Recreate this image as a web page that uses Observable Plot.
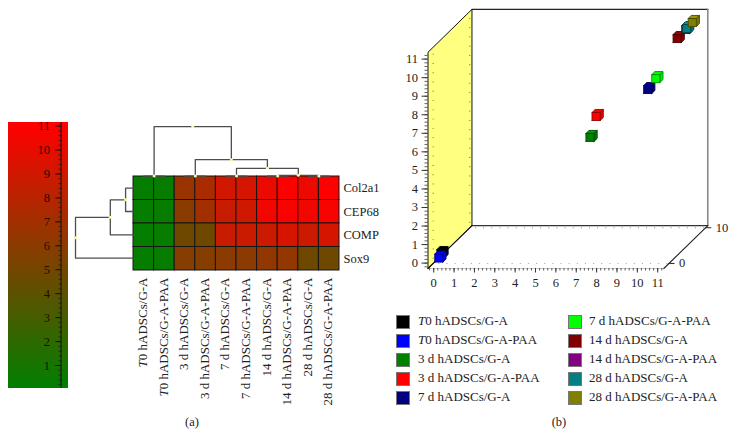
<!DOCTYPE html>
<html><head><meta charset="utf-8">
<script src="https://cdn.jsdelivr.net/npm/d3@7"></script>
<script src="https://cdn.jsdelivr.net/npm/@observablehq/plot@0.6"></script>
<style>
html,body{margin:0;padding:0;background:#fff}
#fig{position:relative;width:735px;height:436px;overflow:hidden;font-family:"Liberation Serif",serif;color:#222}
#fig svg{position:absolute;background:transparent;max-width:none;overflow:visible}
.leg{position:absolute;font-size:13px;line-height:14px;white-space:nowrap}
.sw{position:absolute;width:12px;height:12px;border:1px solid #777}
.cap{position:absolute;font-size:12.5px;transform:translateX(-50%)}
</style></head><body><div id="fig"></div>
<script>
const samples = ["T0 hADSCs/G-A","T0 hADSCs/G-A-PAA","3 d hADSCs/G-A","3 d hADSCs/G-A-PAA","7 d hADSCs/G-A","7 d hADSCs/G-A-PAA","14 d hADSCs/G-A","14 d hADSCs/G-A-PAA","28 d hADSCs/G-A","28 d hADSCs/G-A-PAA"];
const genes = ["Col2a1","CEP68","COMP","Sox9"];
const col2a1 = [0.2,0.3,6.6,7.3,9.0,9.2,10.2,10.8,10.2,11.0];
const cep68  = [0.2,0.3,5.9,7.0,8.6,8.9,10.5,10.7,10.4,10.7];
const comp   = [0.2,0.3,4.8,4.8,8.6,8.7,8.8,9.2,8.8,9.2];
const sox9   = [0.2,0.3,5.8,5.8,6.0,6.0,6.2,6.3,4.8,4.8];
const matrix = [col2a1,cep68,comp,sox9];

// column dendrogram: child positions, merge height and child heights
const colLeft   = [0.5,2.5,4.5,6.5,8.5,7,5,3,1];
const colRight  = [1.5,3.5,5.5,7.5,9.5,9,8,6.5,4.75];
const colHeight = [0.1,0.1,0.1,0.1,0.1,0.25,1.8,3.7,11];
const colLeftH  = [0,0,0,0,0,0.1,0.1,0.1,0.1];
const colRightH = [0,0,0,0,0,0.1,0.25,1.8,3.7];
// row dendrogram
const rowTop     = [0.5,1,1.75];
const rowBottom  = [1.5,2.5,3.5];
const rowHeight  = [1.5,4.4,11];
const rowTopH    = [0,1.5,4.4];
const rowBottomH = [0,0,0];

// 3D scatter values
const pcaX = [0.05,0,6.56,6.86,8.71,9.09,10.12,10.47,10.59,10.79];
const pcaY = [0.19,0,5.58,6.71,7.43,8.0,10.14,10.55,10.68,10.93];
const pcaZ = [0.3,0,4.8,4.8,8.6,8.7,8.8,9.2,8.8,9.2];
const pcaColors = ["#000000","#0000ff","#008000","#ff0000","#000080","#00ff00","#800000","#800080","#008080","#808000"];

const fig = document.getElementById("fig");
const fontFamily = '"Liberation Serif",serif';
const colorScale = {type:"linear",domain:[0,11],range:["#008000","#ff0000"],interpolate:"rgb"};
function place(svg,l,t){svg.style.left=l+"px";svg.style.top=t+"px";fig.appendChild(svg);return svg;}
const seq=(a,b,s)=>d3.range(Math.round((b-a)/s)+1).map(i=>+(a+i*s).toFixed(3));

// ---- colour bar
const barSteps = seq(0.04,11.1,0.05);
place(Plot.plot({width:75,height:290,marginLeft:8,marginRight:7,marginTop:12,marginBottom:12,
  style:{fontFamily,background:"transparent"},
  x:{domain:[0,1],axis:null},y:{domain:[0.04,11.15],axis:null},color:colorScale,
  marks:[
    Plot.rect(barSteps,{x1:0,x2:1,y1:d=>d,y2:d=>d+0.051,fill:d=>d,shapeRendering:"crispEdges"}),
    Plot.ruleX([0.875],{stroke:"#111",strokeWidth:1}),
    Plot.ruleY(seq(0.2,11,0.2),{y:d=>d,x1:0.84,x2:0.90,stroke:"#222",strokeWidth:0.8}),
    Plot.ruleY(seq(1,11,1),{y:d=>d,x1:0.79,x2:0.875,stroke:"#111",strokeWidth:1}),
    Plot.text(seq(1,11,1),{y:d=>d,x:0.69,text:d=>String(d),textAnchor:"end",fontSize:12.5,fill:"#2a0a00"})
  ]}),0,110);

// ---- heat map
const cells = matrix.flatMap((row,i)=>row.map((v,j)=>({gene:genes[i],sample:samples[j],value:v})));
const heat = Plot.plot({width:206+50,height:94+145,marginLeft:0,marginRight:50,marginTop:0,marginBottom:145,
  style:{fontFamily,background:"transparent"},
  x:{domain:samples,padding:0,round:false,label:null},
  y:{domain:genes,padding:0,round:false,label:null},
  color:colorScale,
  marks:[
    Plot.cell(cells,{x:"sample",y:"gene",fill:"value",stroke:"#161616",strokeWidth:1,inset:0}),
    Plot.axisX({tickSize:0,tickRotate:-90,tickPadding:7,fontSize:13,label:null,fill:"#222",dx:-1}),
    Plot.axisY({anchor:"right",tickSize:0,tickPadding:4,fontSize:12.5,label:null,fill:"#222"})
  ]});
place(heat,132.7,176);

// ---- column dendrogram
const colLinks = colLeft.flatMap((a,i)=>[
  {id:i,p:a,h:colLeftH[i]},{id:i,p:a,h:colHeight[i]},{id:i,p:colRight[i],h:colHeight[i]},{id:i,p:colRight[i],h:colRightH[i]}]);
const colDots = colLeft.map((a,i)=>({p:(a+colRight[i])/2,h:colHeight[i]}));
place(Plot.plot({width:206,height:55,marginLeft:0,marginRight:0,marginTop:0,marginBottom:0,
  style:{background:"transparent"},
  x:{domain:[0,10],axis:null},y:{domain:[0,12.11],axis:null},
  marks:[
    Plot.line(colLinks,{x:"p",y:"h",z:"id",stroke:"#4d4d4d",strokeWidth:1.3}),
    Plot.dot(colDots,{x:"p",y:"h",r:1.5,fill:"#ffff99",stroke:"none"})
  ]}),132.7,121);

// ---- row dendrogram
const rowLinks = rowTop.flatMap((a,i)=>[
  {id:i,p:a,h:rowTopH[i]},{id:i,p:a,h:rowHeight[i]},{id:i,p:rowBottom[i],h:rowHeight[i]},{id:i,p:rowBottom[i],h:rowBottomH[i]}]);
const rowDots = rowTop.map((a,i)=>({p:(a+rowBottom[i])/2,h:rowHeight[i]}));
place(Plot.plot({width:63,height:93.3,marginLeft:0,marginRight:0,marginTop:0,marginBottom:0,
  style:{background:"transparent"},
  x:{domain:[11.95,0],axis:null},y:{domain:[0,4],axis:null,reverse:true},
  marks:[
    Plot.line(rowLinks,{x:"h",y:"p",z:"id",stroke:"#4d4d4d",strokeWidth:1.3}),
    Plot.dot(rowDots,{x:"h",y:"p",r:1.5,fill:"#ffff99",stroke:"none"})
  ]}),70,176);

// ---- 3D panel: oblique projection of (x,y,z) onto the page
const kx=0.18, ky=0.193, z0=-1.4, zBack=10.6;
const xLo=-0.28,xHi=11.3,yLo=-0.29,yHi=11.37;
const P=(x,y,z)=>({px:x+kx*(z-z0),py:y+ky*(z-z0)});
const poly=(id,fill,stroke,w,pts)=>pts.map(p=>({id,fill,stroke,w,...P(...p)}));
const wall=poly("wall","#ffff80","#111",1,[[xLo,yLo,z0],[xLo,yHi,z0],[xLo,yHi,zBack],[xLo,yLo,zBack],[xLo,yLo,z0]]);
const seg=(a,b)=>[P(...a),P(...b)];
const cubes=[];
const hx=0.2,hy=0.215,dz=0.85;
pcaX.forEach((x,i)=>{
  const y=pcaY[i],z=pcaZ[i],c=pcaColors[i];
  const a=[x-hx,y-hy,z],b=[x+hx,y-hy,z],e=[x+hx,y+hy,z],f=[x-hx,y+hy,z];
  const back=p=>[p[0],p[1],p[2]+dz];
  const black=c==="#000000"?"#000":d3.color(c).darker(1.6).formatHex();
  cubes.push(...poly("c"+i+"t",d3.color(c).brighter(0.5).formatHex(),black,0.9,[f,e,back(e),back(f),f]));
  cubes.push(...poly("c"+i+"s",d3.color(c).darker(0.2).formatHex(),black,0.9,[b,back(b),back(e),e,b]));
  cubes.push(...poly("c"+i+"f",c,black,0.9,[a,b,e,f,a]));
});
const edge=(pts,stroke,sw)=>Plot.line(pts,{x:"px",y:"py",stroke,strokeWidth:sw});
const wallDots=[0,10].flatMap(z=>seq(0,11,0.5).map(y=>P(xLo,y,z)));
const floorDots=[0,10].flatMap(z=>seq(0,11,0.4).map(x=>P(x,yLo,z)));
const depthTicks=[0,10];
place(Plot.plot({width:325,height:300,marginLeft:17.5,marginRight:10,marginTop:8,marginBottom:32,
  style:{fontFamily,background:"transparent"},
  x:{domain:[xLo,14.33],label:null},y:{domain:[yLo,13.73],label:null},
  marks:[
    Plot.line(wall,{x:"px",y:"py",z:"id",fill:"fill",stroke:"#111",strokeWidth:1}),
    Plot.dot(wallDots,{x:"px",y:"py",r:0.6,fill:"#77772a",stroke:"none"}),
    Plot.dot(floorDots,{x:"px",y:"py",r:0.6,fill:"#999",stroke:"none"}),
    edge(seg([xLo,yHi,zBack],[xHi,yHi,zBack]),"#222",1.2),
    edge(seg([xHi,yHi,zBack],[xHi,yLo,zBack]),"#888",1.6),
    edge(seg([xLo,yLo,zBack],[xHi,yLo,zBack]),"#333",1.3),
    edge(seg([xLo,yLo,z0],[xHi,yLo,z0]),"#bbb",0.8),
    edge(seg([xHi,yLo,z0],[xHi,yLo,zBack]),"#222",1.1),
    edge(seg([xLo,yLo,z0],[xLo,yLo,zBack]),"#111",1.1),
    Plot.line(cubes,{x:"px",y:"py",z:"id",fill:"fill",stroke:"stroke",strokeWidth:0.9}),
    Plot.axisY({anchor:"left",ticks:seq(-0.2,11.2,0.2),tickSize:3,tickFormat:()=>"",stroke:"#333",strokeWidth:0.8,label:null}),
    Plot.axisY({anchor:"left",ticks:seq(0,11,1),tickSize:6,tickPadding:4,tickFormat:d=>String(d),fontSize:12.5,label:null,fill:"#222",stroke:"#333"}),
    Plot.axisX({anchor:"bottom",ticks:seq(-0.2,11.2,0.2),tickSize:2.5,tickFormat:()=>"",stroke:"#333",strokeWidth:0.8,label:null}),
    Plot.axisX({anchor:"bottom",ticks:seq(0,11,1),tickSize:4.5,tickPadding:5,tickFormat:d=>String(d),fontSize:12.5,label:null,fill:"#222",stroke:"#333"}),
    Plot.ruleY(depthTicks,{x1:z=>P(xHi,yLo,z).px,x2:z=>P(xHi,yLo,z).px+0.3,y:z=>P(xHi,yLo,z).py,stroke:"#333",strokeWidth:1.1}),
    Plot.text(depthTicks,{x:z=>P(xHi,yLo,z).px+0.3,y:z=>P(xHi,yLo,z).py,text:d=>String(d),dx:4,textAnchor:"start",fontSize:12.5,fill:"#222"})
  ]}),410,0);

// ---- legend and captions
const richLabel=s=>s.replace(/^T0/,"<i>T</i>0");
samples.forEach((s,i)=>{
  const c=i<5?0:1,r=i%5;
  const sw=document.createElement("div");sw.className="sw";
  sw.style.cssText=`left:${c?567.5:396}px;top:${314.5+r*19}px;background:${pcaColors[i]}`;
  fig.appendChild(sw);
  const t=document.createElement("div");t.className="leg";
  t.style.cssText=`left:${c?589:418}px;top:${314+r*19}px`;
  t.innerHTML=richLabel(s);fig.appendChild(t);
});
[["(a)",192,415],["(b)",559,415]].forEach(([s,x,y])=>{
  const d=document.createElement("div");d.className="cap";d.textContent=s;
  d.style.left=x+"px";d.style.top=y+"px";fig.appendChild(d);
});
// italic T in the rotated heat map labels
d3.select(heat).selectAll("text").each(function(){
  const t=this.textContent;
  if(t.startsWith("T0")) this.innerHTML='<tspan font-style="italic">T</tspan>'+t.slice(1);
});
</script></body></html>
